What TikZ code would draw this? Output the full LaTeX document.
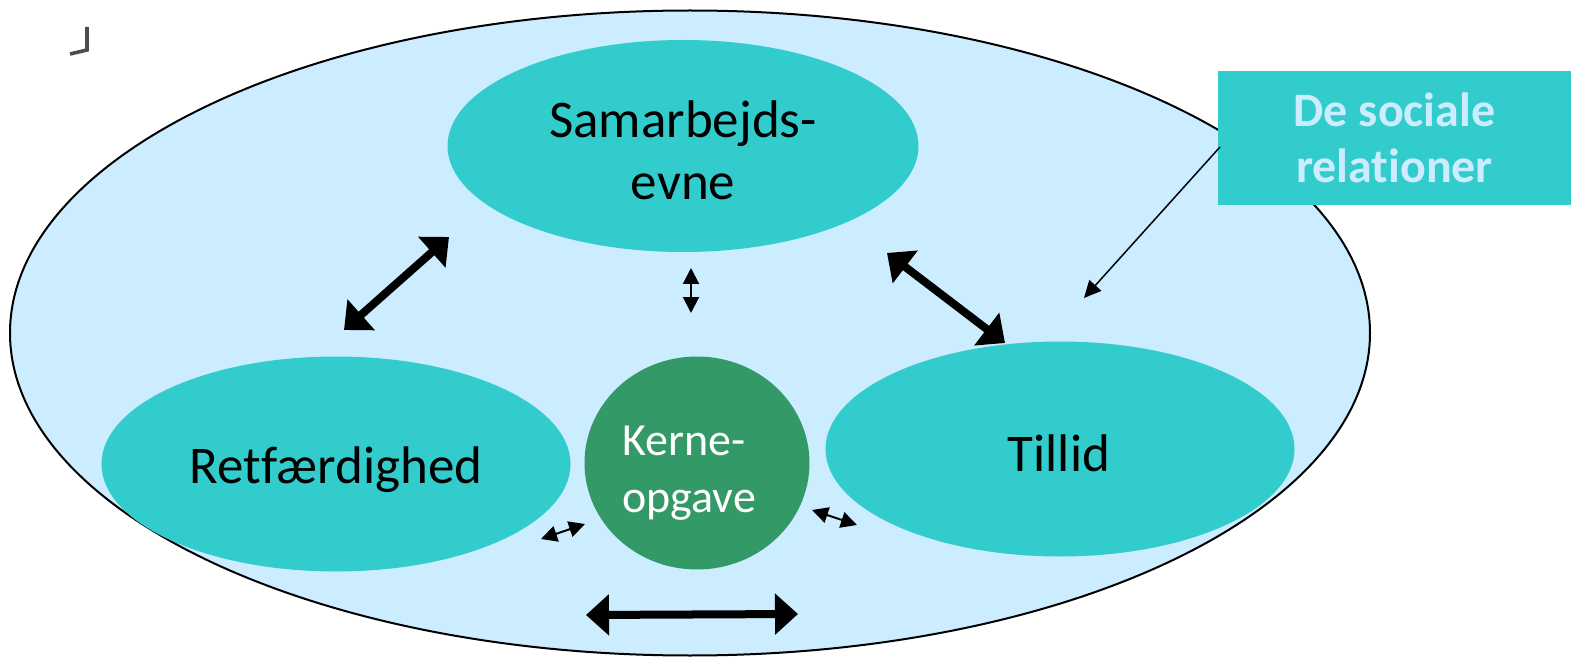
\documentclass[tikz,border=0pt]{standalone}
\usepackage{fontspec}
\setmainfont{Carlito}[Ligatures=NoCommon]
\usetikzlibrary{shapes.geometric,arrows.meta}
\definecolor{outerfill}{HTML}{CCECFF}
\definecolor{tealfill}{HTML}{33CCCC}
\definecolor{kgreen}{HTML}{339966}
\definecolor{labeltext}{HTML}{CCECFF}
\tikzset{
  blob/.style={ellipse, fill=tealfill, inner sep=0pt},
  blobtext/.style={inner sep=0pt, align=center, font=\fontsize{26.5}{31}\selectfont},
  thickarrow/.style={line width=4pt, {Triangle[length=11.5pt,width=20pt]}-{Triangle[length=11.5pt,width=20pt]}},
  thinarrow/.style={line width=1pt, {Triangle[length=8pt,width=8pt]}-{Triangle[length=8pt,width=8pt]}},
  pointer/.style={line width=0.75pt, -{Triangle[length=8.5pt,width=8pt]}}
}
\begin{document}
\begin{tikzpicture}[x=0.5pt,y=-0.5pt]
\useasboundingbox (0,0) rectangle (1571,658);
% corner mark
\draw[line width=1.8pt, black!70, line join=miter] (87,27) -- (87,50) -- (70,54);
% outer ellipse
\node[ellipse, draw=black, line width=1pt, fill=outerfill, inner sep=0pt,
      minimum width=680pt, minimum height=322.5pt] (outer) at (690,333) {};
% inner ellipses
\node[blob, minimum width=235.5pt, minimum height=106pt] (samar) at (683,146) {};
\node[blobtext] (samartext) at (683,150) {Samarbejds-\\evne};
\node[blob, minimum width=234.5pt, minimum height=107.5pt] (retf) at (336,464) {};
\node[blobtext] (retftext) at (336,470) {Retfærdighed};
\node[blob, minimum width=234.5pt, minimum height=107.5pt] (tillid) at (1060,449) {};
\node[blobtext] (tillidtext) at (1059,453) {Tillid};
\node[ellipse, fill=kgreen, inner sep=0pt, minimum width=112.5pt, minimum height=106.5pt] (kerne) at (697,463) {};
\node[text=white, align=left, inner sep=0pt, font=\fontsize{23}{28.5}\selectfont] (kernetext) at (689,473) {Kerne-\\opgave};
% label box
\node[rectangle, fill=tealfill, inner sep=0pt, minimum width=176.5pt, minimum height=67pt,
      text=labeltext, align=center, font=\bfseries\fontsize{24}{28}\selectfont] (lab) at (1394.5,138) {De sociale\\relationer};
% arrow end points
\coordinate (a1s) at (344,330);
\coordinate (a1e) at (449,237);
\coordinate (a2s) at (691,268);
\coordinate (a2e) at (691,313);
\coordinate (a3s) at (887,253);
\coordinate (a3e) at (1005,343);
\coordinate (a4s) at (541,539);
\coordinate (a4e) at (585,524);
\coordinate (a5s) at (812,510);
\coordinate (a5e) at (857,525);
\coordinate (a6s) at (586,615);
\coordinate (a6e) at (798,614);
\coordinate (lbs) at (1220,147);
\coordinate (lbe) at (1084,298);
% arrows
\draw[thickarrow] (a1s) -- (a1e);
\draw[thinarrow] (a2s) -- (a2e);
\draw[thickarrow] (a3s) -- (a3e);
\draw[thinarrow] (a4s) -- (a4e);
\draw[thinarrow] (a5s) -- (a5e);
\draw[thickarrow] (a6s) -- (a6e);
\draw[pointer] (lbs) -- (lbe);
\end{tikzpicture}
\end{document}
